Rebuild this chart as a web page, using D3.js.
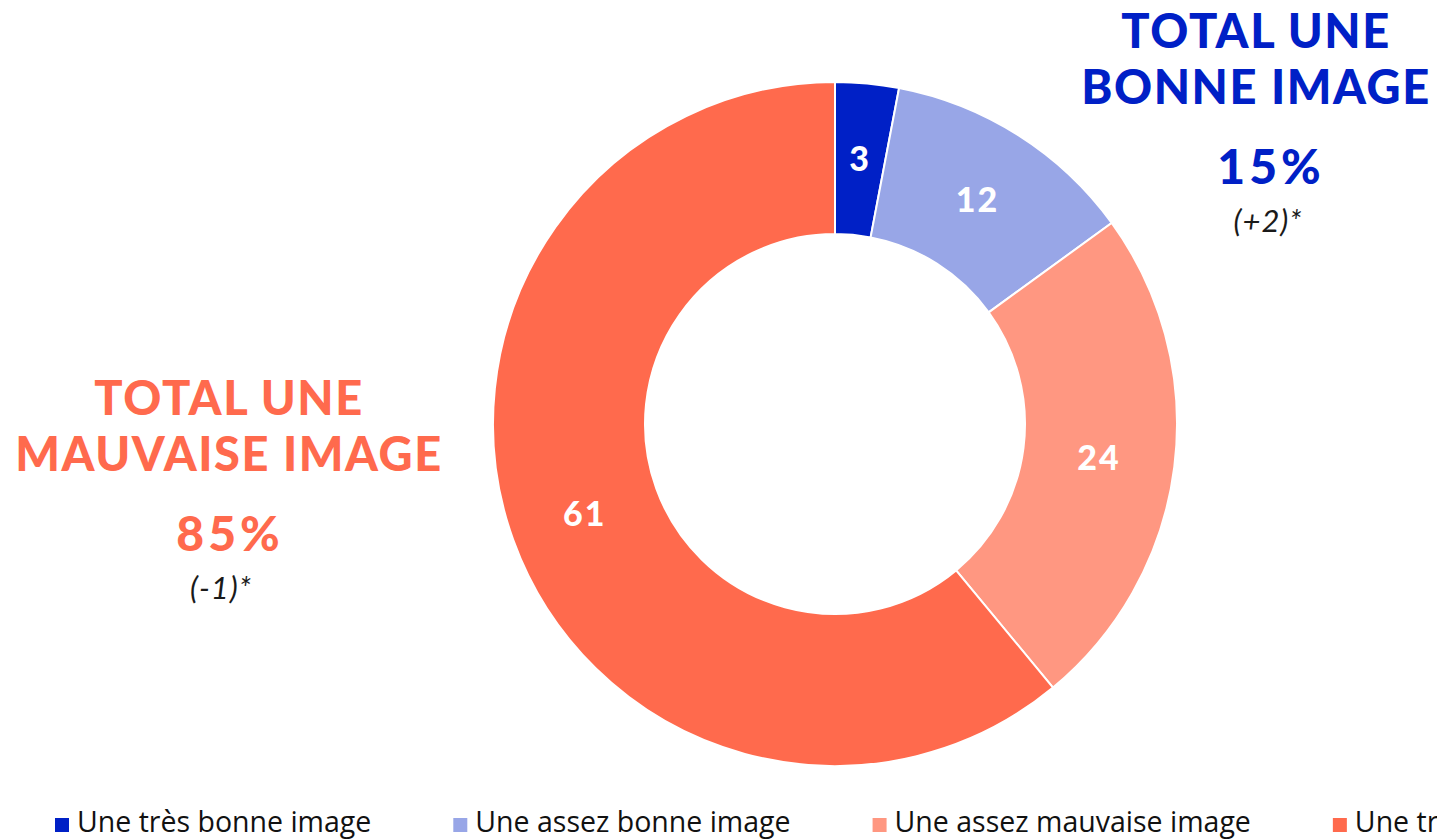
<!DOCTYPE html>
<html>
<head>
<meta charset="utf-8">
<script src="https://cdn.jsdelivr.net/npm/d3@7"></script>
<style>
  body { margin: 0; background: #fff; }
  svg { display: block; }
</style>
</head>
<body>
<div id="chart"></div>
<script>
// data
var categories = ["Une très bonne image", "Une assez bonne image", "Une assez mauvaise image", "Une très mauvaise image"];
var values = [3, 12, 24, 61];
var colors = ["#0020c6", "#98a6e7", "#ff9781", "#ff6a4d"];

var totalLabels = [
  {lines: ["TOTAL UNE", "BONNE IMAGE"], value: "15%", delta: "(+2)*", color: "#0020c6"},
  {lines: ["TOTAL UNE", "MAUVAISE IMAGE"], value: "85%", delta: "(-1)*", color: "#ff6a4d"}
];

var width = 1437, height = 840;
var cx = 835, cy = 424;
var outerR = 342, innerR = 190;

var svg = d3.select("#chart").append("svg")
  .attr("width", width)
  .attr("height", height);

var pie = d3.pie().sort(null).value(function(d) { return d; });
var arc = d3.arc().innerRadius(innerR).outerRadius(outerR);

var g = svg.append("g")
  .attr("transform", "translate(" + cx + "," + cy + ")");

var arcs = pie(values);

g.selectAll("path")
  .data(arcs)
  .enter()
  .append("path")
    .attr("d", arc)
    .attr("fill", function(d, i) { return colors[i]; })
    .attr("stroke", "#fff")
    .attr("stroke-width", 2);

g.selectAll("text.val")
  .data(arcs)
  .enter()
  .append("text")
    .attr("class", "val")
    .attr("transform", function(d) { return "translate(" + arc.centroid(d) + ")"; })
    .attr("text-anchor", "middle")
    .attr("dy", "0.36em")
    .style("font-family", "Lato, 'Noto Sans', sans-serif")
    .style("font-weight", "900")
    .style("font-size", "34px")
    .style("letter-spacing", "2px")
    .style("fill", "#fff")
    .text(function(d) { return d.data; });

// totals
function drawTotal(t, x, y0, dx) {
  var grp = svg.append("g").style("font-family", "Lato, 'Noto Sans', sans-serif");
  t.lines.forEach(function(line, i) {
    grp.append("text")
      .attr("x", x)
      .attr("y", y0 + i * 56)
      .attr("text-anchor", "middle")
      .style("font-weight", "900")
      .style("font-size", "47px")
      .style("letter-spacing", "1.6px")
      .style("fill", t.color)
      .text(line);
  });
  grp.append("text")
    .attr("x", x + dx[0])
    .attr("y", y0 + 136)
    .attr("text-anchor", "middle")
    .style("font-weight", "900")
    .style("font-size", "48px")
    .style("letter-spacing", "4px")
    .style("fill", t.color)
    .text(t.value);
  grp.append("text")
    .attr("x", x + dx[1])
    .attr("y", y0 + 184)
    .attr("text-anchor", "middle")
    .style("font-style", "italic")
    .style("font-size", "31px")
    .style("letter-spacing", "1px")
    .style("fill", "#1a1a1a")
    .text(t.delta);
}
drawTotal(totalLabels[0], 1256, 48, [15, 12]);
drawTotal(totalLabels[1], 229, 415, [1, -8]);

// legend
var legend = svg.append("g")
  .style("font-family", "'Open Sans', sans-serif")
  .style("font-size", "28.5px");

var lx = 55;
categories.forEach(function(c, i) {
  legend.append("rect")
    .attr("x", lx)
    .attr("y", 818)
    .attr("width", 14)
    .attr("height", 14)
    .attr("fill", colors[i]);
  var t = legend.append("text")
    .attr("x", lx + 22)
    .attr("y", 832)
    .style("fill", "#111")
    .text(c);
  lx = lx + 22 + t.node().getComputedTextLength() + 82;
});
</script>
</body>
</html>
